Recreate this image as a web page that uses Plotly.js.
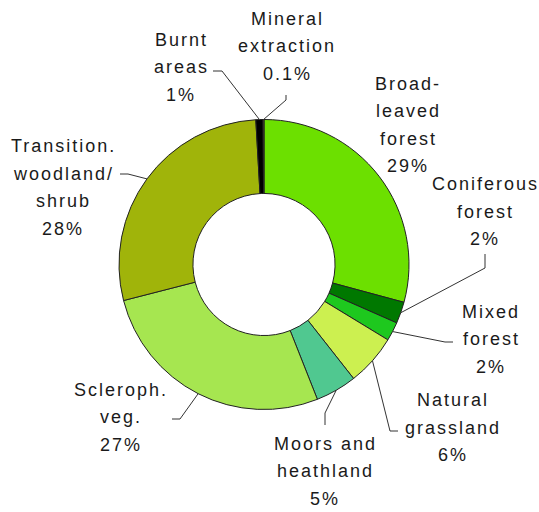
<!DOCTYPE html>
<html>
<head>
<meta charset="utf-8">
<script src="https://cdn.plot.ly/plotly-3.0.1.min.js"></script>
<style>
  html, body { margin: 0; padding: 0; background: #fff; }
  #chart { width: 539px; height: 512px; }
  .annotation-text { letter-spacing: 2px; }
</style>
</head>
<body>
<div id="chart"></div>
<script>
// ---- data ----
const categories = ['Broad-leaved forest', 'Coniferous forest', 'Mixed forest', 'Natural grassland',
  'Moors and heathland', 'Scleroph. veg.', 'Transition. woodland/shrub', 'Burnt areas', 'Mineral extraction'];
const shares = [29.2, 2.4, 2.1, 5.7, 4.6, 27.0, 28.1, 0.8, 0.1];
const labelLines = [
  ['Broad-', 'leaved', 'forest'],
  ['Coniferous', 'forest'],
  ['Mixed', 'forest'],
  ['Natural', 'grassland'],
  ['Moors and', 'heathland'],
  ['Scleroph.', 'veg.'],
  ['Transition.', 'woodland/', 'shrub'],
  ['Burnt', 'areas'],
  ['Mineral', 'extraction']
];
const sliceColors = ['#6ce000', '#007800', '#1ec81e', '#ccf050', '#50c890', '#a6e650', '#a0b40a', '#000000', '#8c6e3c'];

// ---- layout config (pixels) ----
const W = 539, H = 512;
const CX = 264, CY = 264.5, R = 145, HOLE = 0.49;
const LINE_GAP = 27.5;
// label block: centre x, first baseline, leader elbow & end (null = no leader)
const labelCfg = [
  { x: 408, y: 90,    elbow: null, end: null },
  { x: 485, y: 190.7, elbow: [485, 268], end: [485, 254] },
  { x: 491, y: 318.3, elbow: [445, 342], end: [453, 342] },
  { x: 453, y: 406.7, elbow: [390, 431], end: [398, 431] },
  { x: 325, y: 450,   elbow: [325, 413], end: [325, 425] },
  { x: 121, y: 396,   elbow: [180, 419], end: [172, 419] },
  { x: 63,  y: 152.7, elbow: [128, 174], end: [120, 174] },
  { x: 181, y: 46,    elbow: [222, 71],  end: [213, 71] },
  { x: 287, y: 25,    elbow: [286, 100], end: [286, 95] }
];

const px = x => x / W;
const py = y => 1 - y / H;

const total = shares.reduce((a, b) => a + b, 0);
const pctText = shares.map(v => {
  const p = v / total * 100;
  return (p >= 0.5 ? Math.round(p) : p.toFixed(1)) + '%';
});

const annotations = [];
const shapes = [];
const font = { family: 'Liberation Sans, Arial, sans-serif', size: 18, color: '#1a1a1a' };
let cum = 0;
shares.forEach((v, i) => {
  const f0 = cum / total; cum += v; const f1 = cum / total;
  const mid = (f0 + f1) / 2 * 2 * Math.PI;
  const sx = CX + R * Math.sin(mid), sy = CY - R * Math.cos(mid);
  const cfg = labelCfg[i];
  const lines = labelLines[i].concat([pctText[i]]);
  lines.forEach((t, k) => {
    const base = cfg.y + k * LINE_GAP;
    annotations.push({
      xref: 'paper', yref: 'paper', x: px(cfg.x), y: py(base - 6.5),
      xanchor: 'center', yanchor: 'middle', text: t, showarrow: false, font: font
    });
  });
  if (cfg.elbow) {
    const ln = { color: '#333', width: 1 };
    shapes.push({ type: 'line', xref: 'paper', yref: 'paper', x0: px(sx), y0: py(sy), x1: px(cfg.elbow[0]), y1: py(cfg.elbow[1]), line: ln });
    shapes.push({ type: 'line', xref: 'paper', yref: 'paper', x0: px(cfg.elbow[0]), y0: py(cfg.elbow[1]), x1: px(cfg.end[0]), y1: py(cfg.end[1]), line: ln });
  }
});

const trace = {
  type: 'pie',
  labels: categories,
  values: shares,
  sort: false,
  direction: 'clockwise',
  rotation: 0,
  hole: HOLE,
  textinfo: 'none',
  textposition: 'none',
  marker: { colors: sliceColors, line: { color: '#222', width: 1 } },
  domain: { x: [px(CX - R), px(CX + R)], y: [py(CY + R), py(CY - R)] },
  hoverinfo: 'label+percent'
};

const layout = {
  width: W, height: H,
  margin: { l: 0, r: 0, t: 0, b: 0 },
  showlegend: false,
  paper_bgcolor: '#ffffff',
  annotations: annotations,
  shapes: shapes
};

Plotly.newPlot('chart', [trace], layout, { displayModeBar: false, staticPlot: true });
</script>
</body>
</html>
